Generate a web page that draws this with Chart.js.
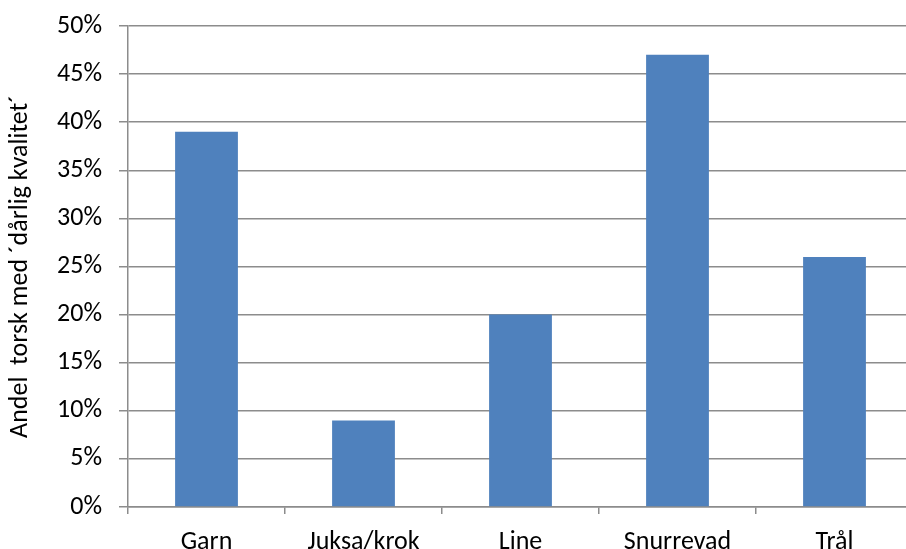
<!DOCTYPE html>
<html>
<head>
<meta charset="utf-8">
<script src="https://cdn.jsdelivr.net/npm/chart.js@4/dist/chart.umd.min.js"></script>
<style>
  html, body { margin: 0; padding: 0; background: #fff; overflow: hidden; }
  #wrap { width: 914px; height: 549px; }
</style>
</head>
<body>
<div id="wrap"><canvas id="c" width="914" height="549"></canvas></div>
<script>
// Share of cod landed with poor quality, by gear type
const categories = ['Garn', 'Juksa/krok', 'Line', 'Snurrevad', 'Trål'];
const shares = [39, 9, 20, 47, 26];
const yTicks = [0, 5, 10, 15, 20, 25, 30, 35, 40, 45, 50];
const yTitle = 'Andel  torsk med ´dårlig kvalitet´';

const FONT = 'Calibri, Carlito, Lato, sans-serif';
const GRID = '#8c8c8c';

new Chart(document.getElementById('c'), {
  type: 'bar',
  data: {
    labels: categories,
    datasets: [{
      data: shares,
      backgroundColor: '#4f81bd',
      borderWidth: 0,
      barPercentage: 0.4,
      categoryPercentage: 1.0
    }]
  },
  options: {
    responsive: false,
    animation: false,
    layout: { padding: { top: 26, right: 1, left: 0, bottom: 0 } },
    plugins: { legend: { display: false }, tooltip: { enabled: false } },
    scales: {
      x: {
        grid: { drawOnChartArea: false, color: GRID, lineWidth: 1.5, tickLength: 7 },
        border: { color: GRID, width: 1.5 },
        ticks: { color: '#000', font: { family: FONT, size: 26 }, padding: 13 },
        afterFit: s => { s.height = 42; s.paddingLeft = 0; s.paddingRight = 0; }
      },
      y: {
        min: 0, max: 50,
        afterBuildTicks: s => { s.ticks = yTicks.map(v => ({ value: v })); },
        grid: { color: GRID, lineWidth: 1.5, tickLength: 9 },
        border: { color: GRID, width: 1.5 },
        ticks: {
          color: '#000', font: { family: FONT, size: 26 }, padding: 17,
          callback: v => v + '%'
        },
        title: {
          display: true, text: yTitle, color: '#000',
          font: { family: FONT, size: 26 }, padding: { top: 5, bottom: 0 }
        },
        afterFit: s => { s.width = 128; s.paddingTop = 0; s.paddingBottom = 0; }
      }
    }
  }
});
</script>
</body>
</html>
